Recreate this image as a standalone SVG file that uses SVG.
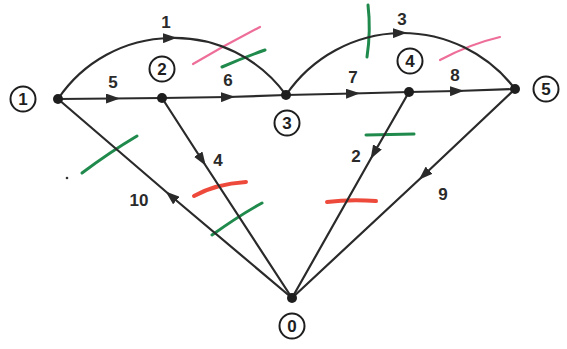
<svg xmlns="http://www.w3.org/2000/svg" width="567" height="349" viewBox="0 0 567 349">
<style>
.e{fill:none;stroke:#2a2a2a;stroke-width:2.2;marker-mid:url(#ar)}
.dot{fill:#1e1e1e}
.lc{fill:none;stroke:#1e1e1e;stroke-width:2}
.t{font-family:"Liberation Sans",Arial,sans-serif;font-size:17px;font-weight:bold;fill:#2a2a2a;text-anchor:middle}
.n{font-family:"Liberation Sans",Arial,sans-serif;font-size:17px;font-weight:bold;fill:#1e1e1e;text-anchor:middle}
.g{fill:none;stroke:#1f8a4c;stroke-width:3;stroke-linecap:round}
.r{fill:none;stroke:#ee4a3c;stroke-width:4;stroke-linecap:round}
.p{fill:none;stroke:#ee6e9a;stroke-width:2.2;stroke-linecap:round}
</style>
<defs>
<marker id="ar" markerWidth="14" markerHeight="10" refX="7" refY="5" orient="auto" markerUnits="userSpaceOnUse">
<path d="M0,0 L14,5 L0,10 Z" fill="#2a2a2a"/>
</marker>
</defs>
<g id="marks">
<path class="p" d="M193,64 Q225,45 260,27"/>
<path class="g" d="M222,67 Q245,57 265,50"/>
<path class="g" d="M82,173 Q110,152 137,136"/>
<circle cx="67" cy="178" r="1.3" fill="#333"/>
<path class="r" d="M194,196 Q215,184 246,182"/>
<path class="g" d="M212,235 Q240,215 262,203"/>
<path class="g" d="M368,5 Q371,30 367,57"/>
<path class="p" d="M440,60 Q470,44 500,37"/>
<path class="g" d="M366,135 L414,134"/>
<path class="r" d="M327,202 Q350,199 376,201"/>
</g>
<g id="connectors">
<path class="e" d="M58,99 A138,138 0 0 1 170,38 A138,138 0 0 1 286,95"/>
<path class="e" d="M286,95 A142,142 0 0 1 400,33 A142,142 0 0 1 515,89"/>
<path class="e" d="M58,99 L113,98.5 L162,98"/>
<path class="e" d="M162,98 L228,97 L286,95"/>
<path class="e" d="M286,95 L353,93.5 L409,92"/>
<path class="e" d="M409,92 L457,91 L515,89"/>
<path class="e" d="M162,98 L202,160 L292,298"/>
<path class="e" d="M409,92 L374,153 L292,298"/>
<path class="e" d="M515,89 L424,175 L292,298"/>
<path class="e" d="M292,298 L171,196 L58,99"/>
<text class="t" x="166" y="28">1</text>
<text class="t" x="402" y="25">3</text>
<text class="t" x="113" y="88">5</text>
<text class="t" x="228" y="86">6</text>
<text class="t" x="353" y="83">7</text>
<text class="t" x="455" y="81">8</text>
<text class="t" x="218" y="166">4</text>
<text class="t" x="356" y="162">2</text>
<text class="t" x="443" y="200">9</text>
<text class="t" x="139" y="206">10</text>
</g>
<g id="node1"><circle class="dot" cx="58" cy="99" r="5"/><circle class="lc" cx="23" cy="99" r="12.5"/><text class="n" x="23" y="105">1</text></g>
<g id="node2"><circle class="dot" cx="162" cy="98" r="5"/><circle class="lc" cx="162" cy="69" r="12.5"/><text class="n" x="162" y="75">2</text></g>
<g id="node3"><circle class="dot" cx="286" cy="95" r="5"/><circle class="lc" cx="287" cy="123" r="12.5"/><text class="n" x="287" y="129">3</text></g>
<g id="node4"><circle class="dot" cx="409" cy="92" r="5"/><circle class="lc" cx="410" cy="61" r="12.5"/><text class="n" x="410" y="67">4</text></g>
<g id="node5"><circle class="dot" cx="515" cy="89" r="5"/><circle class="lc" cx="546" cy="89" r="12.5"/><text class="n" x="546" y="95">5</text></g>
<g id="node0"><circle class="dot" cx="292" cy="298" r="5"/><circle class="lc" cx="292" cy="326" r="12.5"/><text class="n" x="292" y="332">0</text></g>
</svg>
